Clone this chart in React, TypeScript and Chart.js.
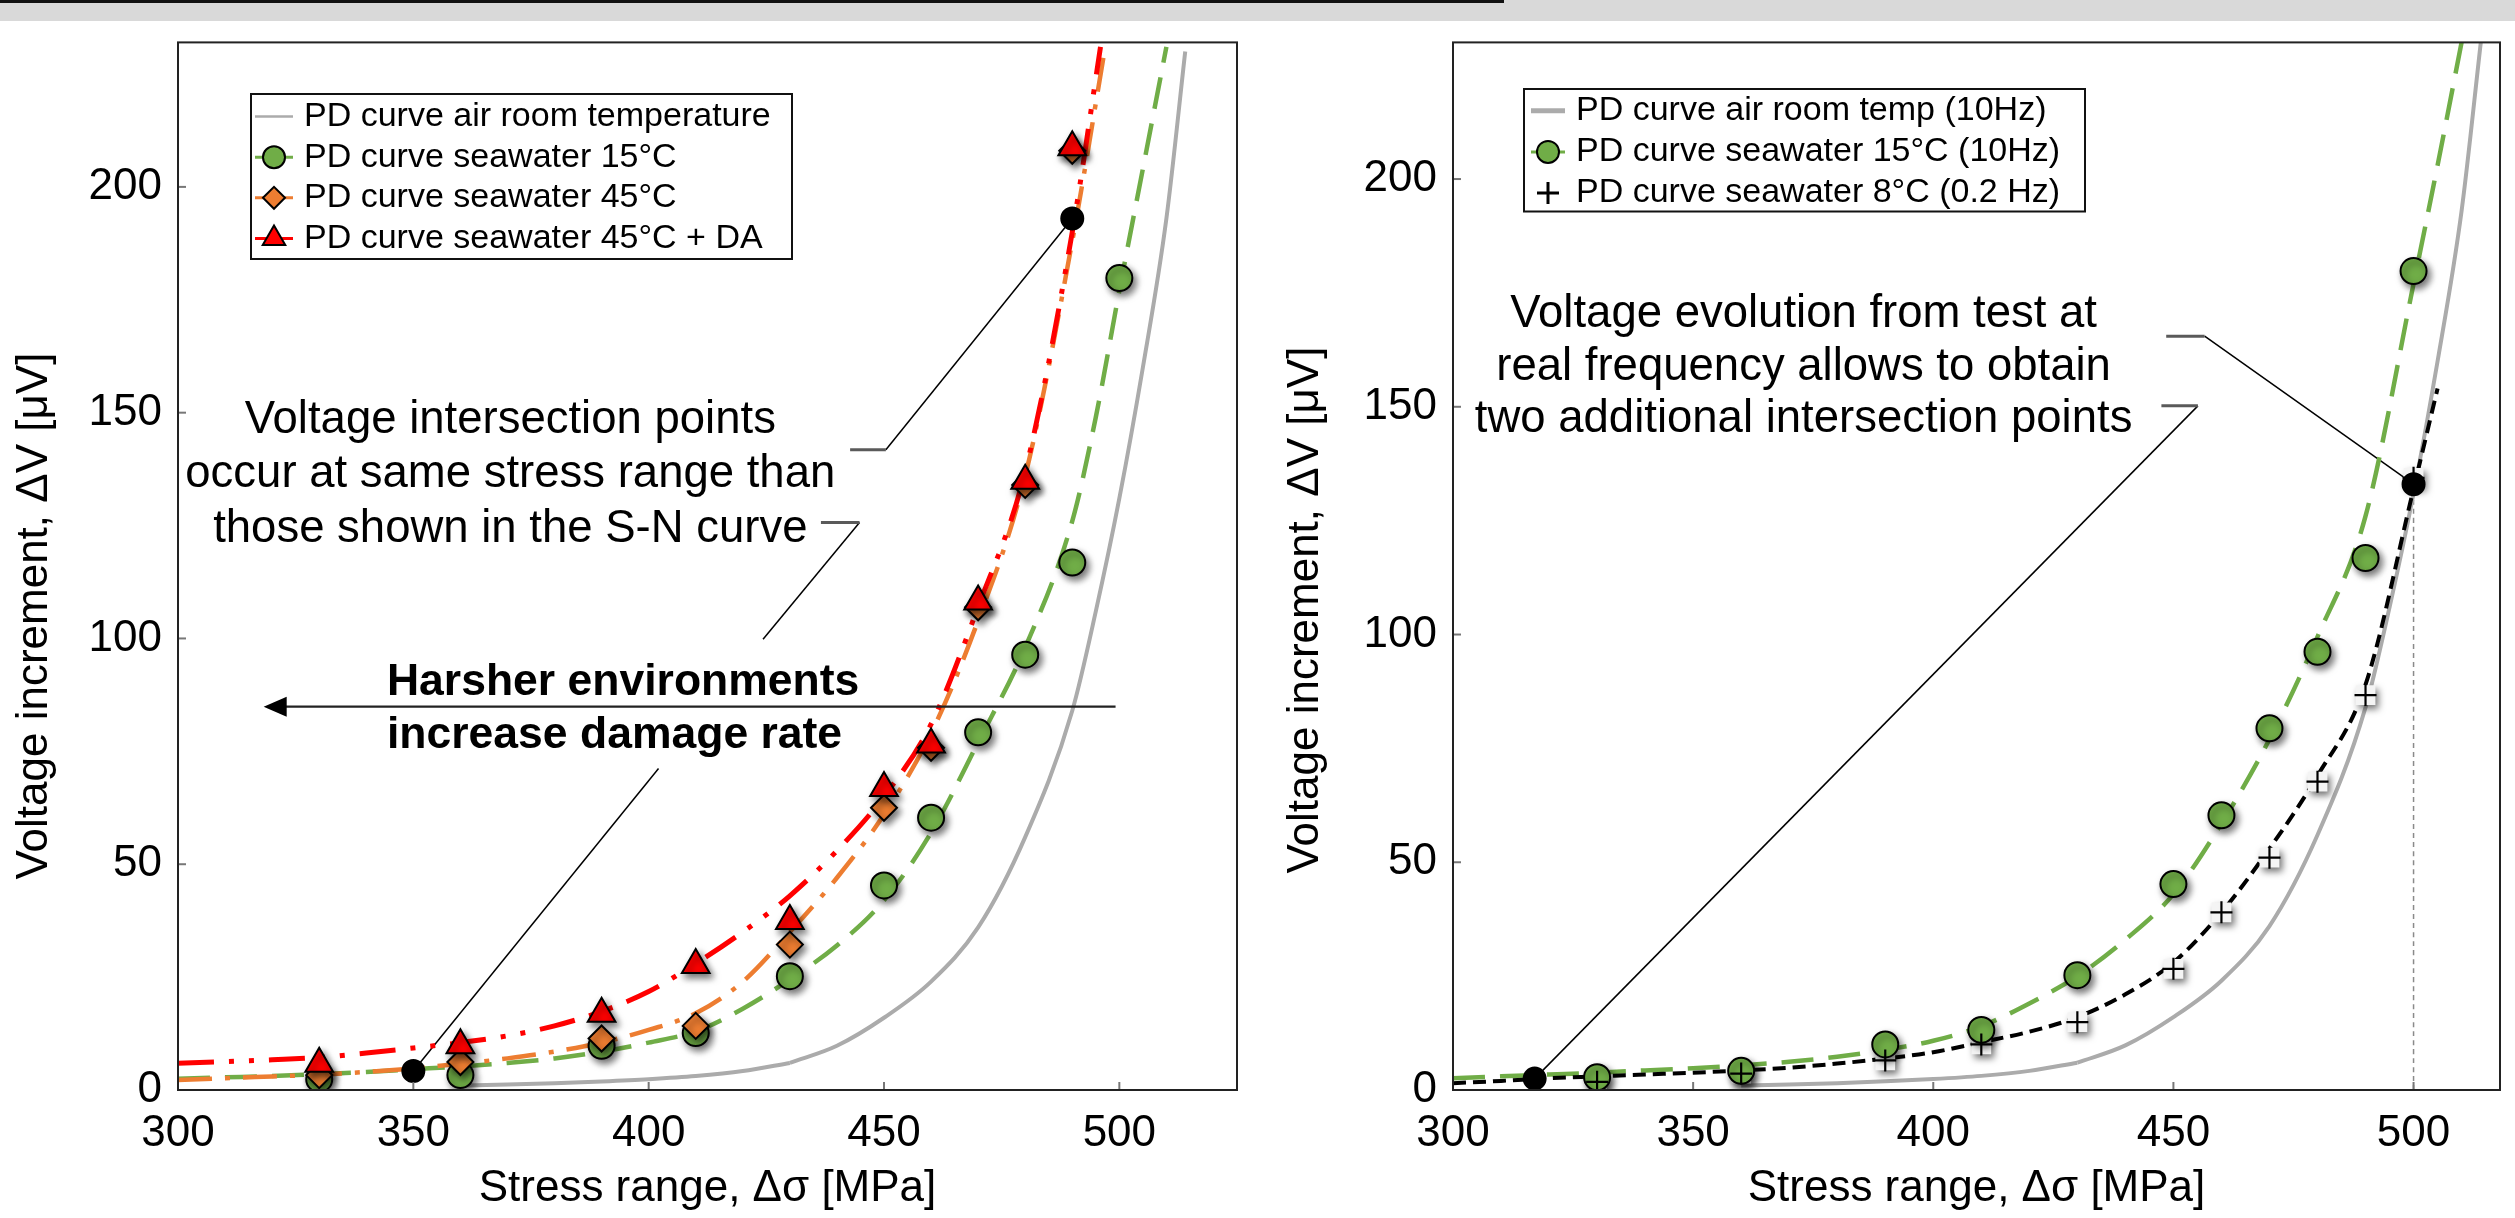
import React, { useEffect, useRef } from "react";
import { Chart, registerables } from "chart.js";
import { drawPoint } from "chart.js/helpers";

Chart.register(...registerables);

const FONT = "'Liberation Sans', Arial, Helvetica, sans-serif";

// ---------------- axes ----------------
const X_MIN = 300;
const X_STEP = 50;
const Y_MIN = 0;
const Y_STEP = 50;
const LEFT_X_MAX = 525;
const LEFT_Y_MAX = 232;
const RIGHT_X_MAX = 518;
const RIGHT_Y_MAX = 230;
const X_TITLE = "Stress range, Δσ [MPa]";
const Y_TITLE = "Voltage increment, ΔV [μV]";

// ---------------- PD curve, air room temperature (both panels) ----------------
const AIR_LOW_X = [360, 370, 380, 390, 400, 410, 420, 430];
const AIR_LOW_Y = [1.0, 1.2, 1.5, 1.9, 2.4, 3.1, 4.2, 6.0];
const AIR_HIGH_X = [430, 440, 450, 460, 470, 480, 490, 495, 500, 505, 510, 514];
const AIR_HIGH_Y = [6.0, 9.8, 16, 24, 36, 56, 84, 106, 131, 160, 193, 230];

// ---------------- left panel: fitted curves ----------------
const L_SW15_FIT_X = [300, 310, 320, 330, 340, 350, 360, 370, 380, 390, 400, 410, 420, 430, 440, 450, 460, 470, 480, 490, 495, 500, 505, 510];
const L_SW15_FIT_Y = [2.5, 2.8, 3.1, 3.5, 4.0, 4.6, 5.2, 6.0, 7.0, 8.5, 10.5, 13, 18, 24.5, 32, 42, 57, 77, 98, 126, 149, 177, 204, 231];
const L_SW45_FIT_X = [300, 310, 320, 330, 340, 350, 360, 370, 380, 390, 400, 410, 420, 430, 440, 450, 460, 470, 480, 490, 497];
const L_SW45_FIT_Y = [2.2, 2.6, 3.0, 3.4, 4.0, 4.8, 5.8, 7.0, 8.5, 10.5, 13.3, 17, 24, 35, 47, 61, 79, 104, 136, 188, 231];
const L_DA_FIT_X = [300, 310, 320, 330, 340, 350, 360, 370, 380, 390, 400, 410, 420, 430, 440, 450, 460, 470, 480, 490, 496];
const L_DA_FIT_Y = [5.9, 6.3, 6.7, 7.2, 8.2, 9.3, 10.5, 12, 14.2, 17.4, 21.8, 28, 35, 43, 53, 65, 81, 107, 137, 190, 231];

// ---------------- left panel: measured points ----------------
const L_SW15_X = [330, 360, 390, 410, 430, 450, 460, 470, 480, 490, 500];
const L_SW15_Y = [2.4, 3.3, 9.8, 12.6, 25.2, 45.3, 60.3, 79.2, 96.4, 116.8, 179.8];
const L_SW45_X = [330, 360, 390, 410, 430, 450, 460, 470, 480, 490];
const L_SW45_Y = [3.3, 6.2, 11.4, 14.2, 32.2, 62.5, 75.8, 106.9, 134, 208];
const L_DA_X = [330, 360, 390, 410, 430, 450, 460, 470, 480, 490];
const L_DA_Y = [5.8, 9.9, 16.9, 27.7, 37.4, 66.9, 76.5, 108.2, 134.9, 208.8];
const L_CROSS_X = [350, 490];
const L_CROSS_Y = [4.2, 193];

// ---------------- right panel: fitted curves ----------------
const R_SW15_FIT_X = [300, 310, 320, 330, 340, 350, 360, 370, 380, 390, 400, 410, 420, 430, 440, 450, 460, 470, 480, 490, 500, 505, 510];
const R_SW15_FIT_Y = [2.6, 3.0, 3.4, 3.8, 4.3, 4.8, 5.4, 6.2, 7.3, 8.8, 10.8, 14, 19, 25, 33, 43, 58.5, 77, 99.5, 126, 177, 203, 230];
const R_SW8_FIT_X = [300, 310, 320, 330, 340, 350, 360, 370, 380, 390, 400, 410, 420, 430, 440, 450, 460, 470, 480, 490, 500, 505];
const R_SW8_FIT_Y = [1.5, 2.0, 2.6, 3.0, 3.4, 3.8, 4.3, 4.9, 5.8, 6.9, 8.3, 10.5, 12.8, 16, 21, 28, 39, 53, 69, 89, 132, 154];

// ---------------- right panel: measured points ----------------
const R_SW15_X = [330, 360, 390, 410, 430, 450, 460, 470, 480, 490, 500];
const R_SW15_Y = [2.8, 4.2, 10, 13.2, 25.2, 45.2, 60.3, 79.4, 96.2, 116.8, 179.8];
const R_SW8_X = [330, 360, 390, 410, 430, 450, 460, 470, 480, 490, 500];
const R_SW8_Y = [1.8, 3.6, 6.5, 10, 14.9, 26.6, 39, 51, 67.7, 86.7, 134.4];
const R_CROSS_X = [317, 500];
const R_CROSS_Y = [2.5, 133];
const R_GUIDE_X = [500, 500];
const R_GUIDE_Y = [0, 133];

// ---------------- colours ----------------
const GREEN = "#70AD47";
const ORANGE = "#ED7D31";
const RED = "#FF0000";
const GREY = "#ABABAB";
const BLACK = "#000000";

const pts = (xs: number[], ys: number[]) => xs.map((x, i) => ({ x, y: ys[i] }));

function curve(label: string, xs: number[], ys: number[], color: string, width: number, dash: number[], order = 10) {
  return {
    label,
    data: pts(xs, ys),
    showLine: true,
    borderColor: color,
    backgroundColor: color,
    borderWidth: width,
    borderDash: dash,
    pointRadius: 0,
    pointHoverRadius: 0,
    cubicInterpolationMode: "monotone",
    fill: false,
    order,
  };
}

function markers(label: string, xs: number[], ys: number[], style: string, fill: string, radius: number, order: number, shadow = true, bw = 2, border = BLACK) {
  return {
    label,
    data: pts(xs, ys),
    showLine: false,
    pointStyle: style,
    pointRadius: radius,
    pointHoverRadius: radius,
    backgroundColor: fill,
    borderColor: border,
    borderWidth: bw,
    order,
    shadow,
  };
}

// ---------------- panel specs ----------------
const LEFT = {
  id: "left",
  width: 1255,
  yAxisWidth: 178,
  padRight: 4,
  xMax: LEFT_X_MAX,
  yMax: LEFT_Y_MAX,
  yTitle: { x: 35, y: 616 },
  datasets: [
    curve("PD curve air room temperature", AIR_LOW_X, AIR_LOW_Y, GREY, 4, [], 14),
    curve("PD curve air room temperature", AIR_HIGH_X, AIR_HIGH_Y, GREY, 4, [], 14),
    curve("PD curve seawater 15°C", L_SW15_FIT_X, L_SW15_FIT_Y, GREEN, 4.5, [32, 15], 13),
    curve("PD curve seawater 45°C", L_SW45_FIT_X, L_SW45_FIT_Y, ORANGE, 4.5, [34, 13, 5, 13], 12),
    curve("PD curve seawater 45°C + DA", L_DA_FIT_X, L_DA_FIT_Y, RED, 5, [36, 15, 5, 15, 5, 15], 11),
    markers("PD curve seawater 15°C", L_SW15_X, L_SW15_Y, "circle", GREEN, 13, 6),
    markers("PD curve seawater 45°C", L_SW45_X, L_SW45_Y, "rectRot", ORANGE, 13, 5),
    markers("PD curve seawater 45°C + DA", L_DA_X, L_DA_Y, "triangle", RED, 16, 4),
    markers("intersection", L_CROSS_X, L_CROSS_Y, "circle", BLACK, 11, 1, false),
  ],
  legend: {
    x: 251, y: 94, w: 541, h: 165, rowY: 116.6, rowGap: 40.6, symX: 274, symHalf: 19, textX: 304, markerRadius: 11,
    entries: [
      { line: 0, marker: -1, lineWidth: 2.5 },
      { line: 2, marker: 5, lineWidth: 3 },
      { line: 3, marker: 6, lineWidth: 3 },
      { line: 4, marker: 7, lineWidth: 3 },
    ],
  },
  texts: [
    { lines: ["Voltage intersection points", "occur at same stress range than", "those shown in the S-N curve"], x: 370.6, y: 145.5, gap: 54.5, align: "center", bold: false, size: 45.5 },
    { lines: ["Harsher environments", "increase damage rate"], x: 344.4, y: 87.4, gap: 53, align: "left", bold: true, size: 44.5 },
  ],
  callouts: [
    { stub: [442.8, 450.4], y: 141.8, to: [490, 193] },
    { stub: [436.6, 444.8], y: 125.7, to: [424.3, 99.8] },
    { stub: null, y: 71.2, from: 402.1, to: [350, 4.2] },
  ],
  arrows: [{ from: 499.2, to: 318.2, y: 84.9 }],
};

const RIGHT = {
  id: "right",
  width: 1260,
  yAxisWidth: 198,
  padRight: 13,
  xMax: RIGHT_X_MAX,
  yMax: RIGHT_Y_MAX,
  yTitle: { x: 51, y: 610 },
  datasets: [
    curve("PD curve air room temp (10Hz)", AIR_LOW_X, AIR_LOW_Y, GREY, 4, [], 14),
    curve("PD curve air room temp (10Hz)", AIR_HIGH_X, AIR_HIGH_Y, GREY, 4, [], 14),
    curve("PD curve seawater 15°C (10Hz)", R_SW15_FIT_X, R_SW15_FIT_Y, GREEN, 4.5, [32, 15], 13),
    curve("PD curve seawater 8°C (0.2 Hz)", R_SW8_FIT_X, R_SW8_FIT_Y, BLACK, 4, [13, 7], 12),
    curve("guide", R_GUIDE_X, R_GUIDE_Y, "#8a8a8a", 1.5, [5, 4], 15),
    markers("PD curve seawater 15°C (10Hz)", R_SW15_X, R_SW15_Y, "circle", GREEN, 13, 6),
    markers("PD curve seawater 8°C (0.2 Hz)", R_SW8_X, R_SW8_Y, "cross", BLACK, 11, 4, false, 2.2),
    markers("plus background", R_SW8_X, R_SW8_Y, "rect", "#f4f4f4", 14, 7, true, 0, "rgba(0,0,0,0)"),
    markers("intersection", R_CROSS_X, R_CROSS_Y, "circle", BLACK, 11, 1, false),
  ],
  legend: {
    x: 269, y: 89, w: 561, h: 122.5, rowY: 110.7, rowGap: 41.2, symX: 293, symHalf: 17, textX: 321, markerRadius: 11,
    entries: [
      { line: 0, marker: -1, lineWidth: 5 },
      { line: 2, marker: 5, lineWidth: 3 },
      { line: -1, marker: 6, lineWidth: 3 },
    ],
  },
  texts: [
    { lines: ["Voltage evolution from test at", "real frequency allows to obtain", "two additional intersection points"], x: 373, y: 167.5, gap: 52.5, align: "center", bold: false, size: 45.5 },
  ],
  callouts: [
    { stub: [448.5, 456.5], y: 165.5, to: [500, 133] },
    { stub: [447.5, 455.1], y: 150.2, to: [317, 2.5] },
  ],
  arrows: [],
};

function decorPlugin(p: any) {
  return {
    id: "decor_" + p.id,
    beforeDatasetDraw(chart: any, args: any) {
      const ds = chart.data.datasets[args.index];
      if (ds.shadow) {
        const c = chart.ctx;
        c.save();
        c.shadowColor = "rgba(0,0,0,0.55)";
        c.shadowBlur = 7;
        c.shadowOffsetX = 3;
        c.shadowOffsetY = 4;
      }
    },
    afterDatasetDraw(chart: any, args: any) {
      const ds = chart.data.datasets[args.index];
      if (ds.shadow) chart.ctx.restore();
    },
    beforeDatasetsDraw(chart: any) {
      const c = chart.ctx;
      const xs = chart.scales.x;
      const ys = chart.scales.y;
      c.save();
      for (const cl of p.callouts) {
        const sy = ys.getPixelForValue(cl.y);
        const tx = xs.getPixelForValue(cl.to[0]);
        const ty = ys.getPixelForValue(cl.to[1]);
        const startX = cl.stub ? xs.getPixelForValue(cl.stub[1]) : xs.getPixelForValue(cl.from);
        c.strokeStyle = "#000";
        c.lineWidth = 1.5;
        c.setLineDash([]);
        c.beginPath();
        c.moveTo(startX, sy);
        c.lineTo(tx, ty);
        c.stroke();
        if (cl.stub) {
          c.strokeStyle = "#5a5a5a";
          c.lineWidth = 3;
          c.beginPath();
          c.moveTo(xs.getPixelForValue(cl.stub[0]), sy);
          c.lineTo(startX, sy);
          c.stroke();
        }
      }
      c.restore();
    },
    afterDatasetsDraw(chart: any) {
      const c = chart.ctx;
      const xs = chart.scales.x;
      const ys = chart.scales.y;
      const a = chart.chartArea;
      c.save();
      c.setLineDash([]);
      // inner tick marks
      c.strokeStyle = "#777";
      c.lineWidth = 2;
      for (const t of xs.ticks) {
        const px = xs.getPixelForValue(t.value);
        c.beginPath();
        c.moveTo(px, a.bottom);
        c.lineTo(px, a.bottom - 8);
        c.stroke();
      }
      for (const t of ys.ticks) {
        const py = ys.getPixelForValue(t.value);
        c.beginPath();
        c.moveTo(a.left, py);
        c.lineTo(a.left + 8, py);
        c.stroke();
      }
      // frame
      c.strokeStyle = "#222";
      c.lineWidth = 2;
      c.strokeRect(a.left, a.top, a.right - a.left, a.bottom - a.top);

      // arrows
      for (const ar of p.arrows) {
        const y = ys.getPixelForValue(ar.y);
        const x1 = xs.getPixelForValue(ar.from);
        const x2 = xs.getPixelForValue(ar.to);
        c.strokeStyle = "#222";
        c.fillStyle = "#000";
        c.lineWidth = 2.2;
        c.beginPath();
        c.moveTo(x1, y);
        c.lineTo(x2 + 18, y);
        c.stroke();
        c.beginPath();
        c.moveTo(x2, y);
        c.lineTo(x2 + 23, y - 10);
        c.lineTo(x2 + 23, y + 10);
        c.closePath();
        c.fill();
      }

      // annotation texts
      c.fillStyle = "#000";
      c.textBaseline = "alphabetic";
      for (const t of p.texts) {
        c.font = `${t.bold ? "bold " : ""}${t.size}px ${FONT}`;
        c.textAlign = t.align;
        const x = xs.getPixelForValue(t.x);
        const y0 = ys.getPixelForValue(t.y);
        t.lines.forEach((ln: string, i: number) => c.fillText(ln, x, y0 + i * t.gap));
      }

      // legend
      const L = p.legend;
      c.fillStyle = "#fff";
      c.fillRect(L.x, L.y, L.w, L.h);
      c.strokeStyle = "#111";
      c.lineWidth = 2;
      c.strokeRect(L.x, L.y, L.w, L.h);
      L.entries.forEach((e: any, i: number) => {
        const cy = L.rowY + i * L.rowGap;
        let label = "";
        if (e.line >= 0) {
          const ds = chart.data.datasets[e.line];
          label = ds.label;
          c.strokeStyle = ds.borderColor;
          c.lineWidth = e.lineWidth;
          c.setLineDash([]);
          c.beginPath();
          c.moveTo(L.symX - L.symHalf, cy);
          c.lineTo(L.symX + L.symHalf, cy);
          c.stroke();
        }
        if (e.marker >= 0) {
          const ds = chart.data.datasets[e.marker];
          label = ds.label;
          const bw = ds.pointStyle === "cross" ? 3 : ds.borderWidth;
          c.fillStyle = ds.backgroundColor;
          c.strokeStyle = ds.borderColor;
          c.lineWidth = bw;
          drawPoint(c, { pointStyle: ds.pointStyle, radius: ds.pointStyle === "triangle" ? L.markerRadius + 2 : L.markerRadius, borderWidth: bw, rotation: 0 } as any, L.symX, cy);
        }
        c.fillStyle = "#000";
        c.font = `34px ${FONT}`;
        c.textAlign = "left";
        c.textBaseline = "middle";
        c.fillText(label, L.textX, cy);
      });

      // y-axis title
      c.save();
      c.translate(p.yTitle.x, p.yTitle.y);
      c.rotate(-Math.PI / 2);
      c.font = `44px ${FONT}`;
      c.fillStyle = "#000";
      c.textAlign = "center";
      c.textBaseline = "middle";
      c.fillText(Y_TITLE, 0, 0);
      c.restore();

      c.restore();
    },
  };
}

function buildConfig(p: any): any {
  const tickFont = { family: FONT, size: 44 };
  return {
    type: "scatter",
    data: { datasets: p.datasets },
    options: {
      animation: false,
      responsive: false,
      maintainAspectRatio: false,
      devicePixelRatio: 1,
      events: [],
      layout: { padding: { top: 40, right: p.padRight, bottom: 0, left: 0 } },
      plugins: { legend: { display: false }, tooltip: { enabled: false } },
      scales: {
        x: {
          type: "linear",
          min: X_MIN,
          max: p.xMax,
          afterFit: (s: any) => { s.height = 128; },
          ticks: { stepSize: X_STEP, includeBounds: false, padding: 17, color: "#000", font: tickFont, maxRotation: 0 },
          grid: { display: false, drawTicks: false },
          border: { display: false },
          title: { display: true, text: X_TITLE, color: "#000", font: tickFont, padding: { top: 0, bottom: 3 } },
        },
        y: {
          type: "linear",
          min: Y_MIN,
          max: p.yMax,
          afterFit: (s: any) => { s.width = p.yAxisWidth; },
          ticks: { stepSize: Y_STEP, includeBounds: false, padding: 16, color: "#000", font: tickFont },
          grid: { display: false, drawTicks: false },
          border: { display: false },
          title: { display: false },
        },
      },
    },
    plugins: [decorPlugin(p)],
  };
}

function ChartPanel({ spec, left }: { spec: any; left: number }) {
  const ref = useRef<HTMLCanvasElement>(null);
  useEffect(() => {
    const chart = new Chart(ref.current as HTMLCanvasElement, buildConfig(spec));
    return () => chart.destroy();
  }, [spec]);
  return (
    <canvas
      ref={ref}
      width={spec.width}
      height={1218}
      style={{ position: "absolute", left, top: 0, width: spec.width, height: 1218, display: "block" }}
    />
  );
}

export default function App() {
  return (
    <div style={{ position: "fixed", left: 0, top: 0, width: 2515, height: 1218, background: "#fff", overflow: "hidden" }}>
      <div style={{ position: "absolute", left: 0, top: 0, width: 2515, height: 21, background: "#d9d9d9" }} />
      <div style={{ position: "absolute", left: 0, top: 0, width: 1504, height: 3, background: "#111" }} />
      <ChartPanel spec={LEFT} left={0} />
      <ChartPanel spec={RIGHT} left={1255} />
    </div>
  );
}
